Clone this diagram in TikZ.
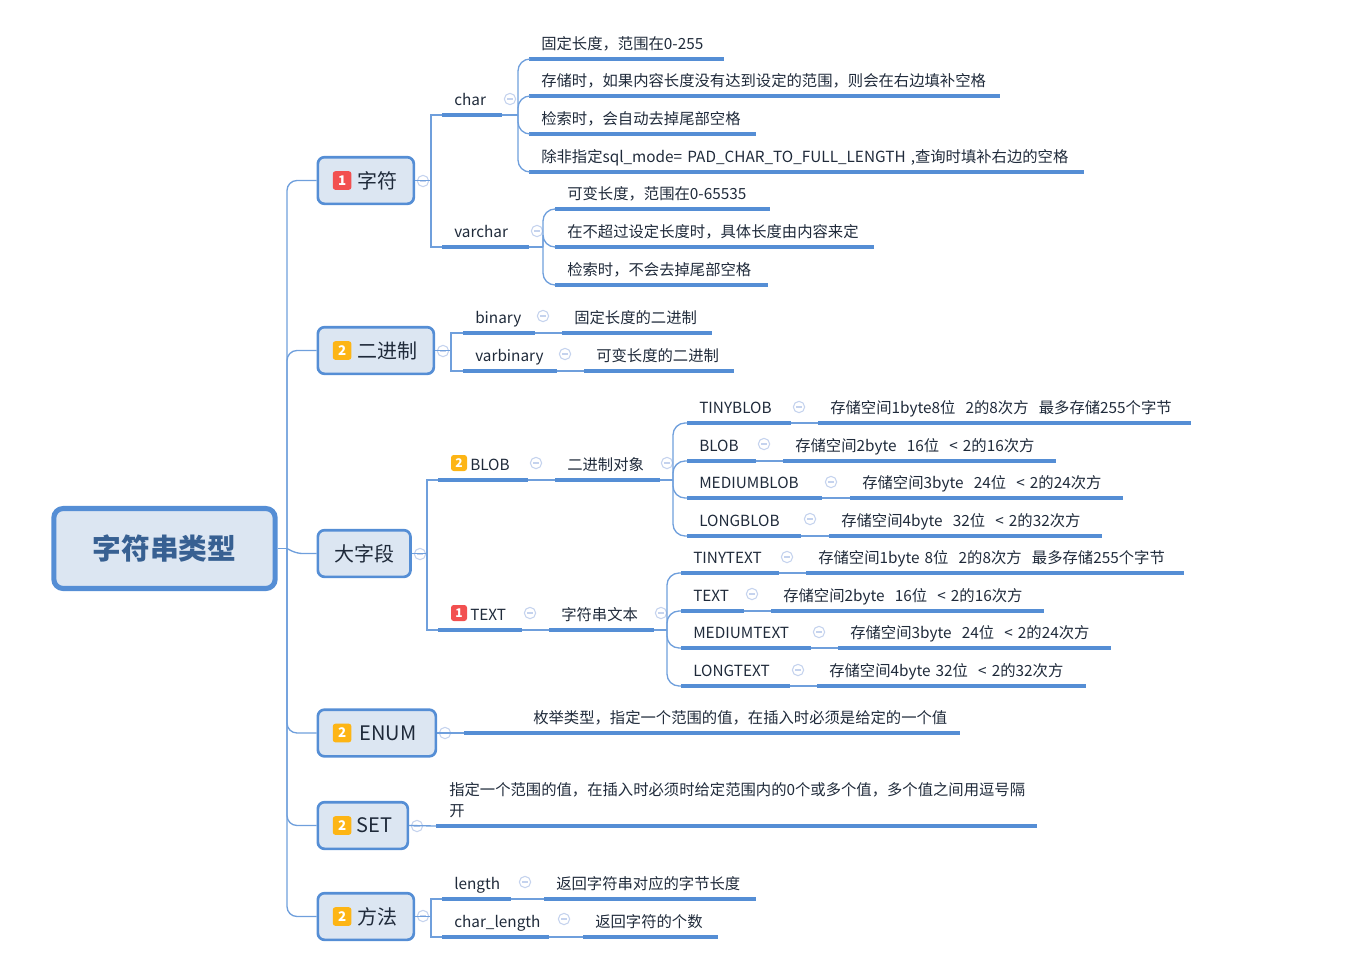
\documentclass[tikz,border=0pt]{standalone}
\usepackage{fontspec}
\setmainfont{Noto Sans CJK SC}
\usetikzlibrary{positioning}

\definecolor{lineblue}{HTML}{6F9FDC}
\definecolor{ruleblue}{HTML}{558ED5}
\definecolor{boxfill}{HTML}{DCE6F2}
\definecolor{roottext}{HTML}{376092}
\definecolor{foldline}{HTML}{C5D3EE}
\definecolor{inktext}{HTML}{1F2A3A}
\definecolor{badgeone}{HTML}{F25050}
\definecolor{badgetwo}{HTML}{FDB515}

\tikzset{
    link/.style={draw=lineblue, line width=1pt, rounded corners=7.5pt},
    hublink/.style={link, rounded corners=9pt},
    underrule/.style={draw=ruleblue, line width=2.4pt},
    leaf/.style={inner xsep=9pt, inner ysep=4.6pt, text height=8pt, text depth=2.5pt, align=left, font=\fontsize{11.5}{13.5}\selectfont, text=inktext},
    topic/.style={draw=ruleblue, fill=boxfill, line width=2pt, rounded corners=5pt, minimum height=35pt, inner sep=0pt, anchor=west, font=\fontsize{15}{18}\selectfont, text=inktext},
    root/.style={draw=ruleblue, fill=boxfill, line width=3.8pt, rounded corners=7pt, minimum width=166pt, minimum height=60pt, font=\fontsize{21.5}{26}\bfseries\selectfont, text=roottext},
    fold/.style={circle, draw=foldline, line width=0.8pt, fill=white, minimum size=8.5pt, inner sep=0pt,
        path picture={\draw[foldline, line width=0.8pt] ([xshift=2pt]path picture bounding box.west) -- ([xshift=-2pt]path picture bounding box.east);}},
    badge/.style={fill=#1, rounded corners=2pt, text=white, inner sep=0pt, minimum size=14pt, font=\fontsize{10}{12}\bfseries\selectfont},
    smallbadge/.style={badge=#1, minimum size=12pt, font=\fontsize{9}{11}\bfseries\selectfont}
}

% a text with its thick line under it: name, left, right, line height, text
\newcommand{\leafnode}[5]{%
    \pgfmathsetmacro{\leafwidth}{(#3-#2)*0.75-18}
    \node[leaf, text width=\leafwidth pt, anchor=south west] (#1) at (#2,#4) {#5};
    \draw[underrule] (#1.south west) -- (#1.south east);
}
% the small circle with the minus: name, x, y
\newcommand{\foldnode}[3]{\node[fold] (#1) at (#2,#3) {};}

\begin{document}
\begin{tikzpicture}[x=0.75pt, y=-0.75pt]
    \useasboundingbox (0,0) rectangle (1356,961);

    % draw the root and the six topics
    \node[root] (strtype) at (164.5,548.5) {字符串类型};
    \node[topic, minimum width=72pt] (chars) at (316.5,180.5) {\hspace*{17pt}字符};
    \node[topic, minimum width=87pt] (bin) at (316.5,350.5) {\hspace*{17pt}二进制};
    \node[topic, minimum width=69.5pt] (big) at (316.5,553.5) {大字段};
    \node[topic, minimum width=88.5pt] (enum) at (316.5,733) {\hspace*{17pt}ENUM};
    \node[topic, minimum width=67.5pt] (set) at (316.5,825.5) {\hspace*{17pt}SET};
    \node[topic, minimum width=72pt] (func) at (316.5,916.5) {\hspace*{17pt}方法};

    \node[badge=badgeone, right=12pt of chars.west] (charsbadge) {1};
    \node[badge=badgetwo, right=12pt of bin.west] (binbadge) {2};
    \node[badge=badgetwo, right=12pt of enum.west] (enumbadge) {2};
    \node[badge=badgetwo, right=12pt of set.west] (setbadge) {2};
    \node[badge=badgetwo, right=12pt of func.west] (funcbadge) {2};

    % the spine from the root to the topics
    \coordinate (spine) at (287,548.5);
    \draw[link] (strtype.east) -- (spine);
    \foreach \t in {chars,bin,enum,set,func}
        \draw[link] (spine) |- (\t.west);
    \draw[link, rounded corners=4pt] (spine) -- (297,553.5) -- (big.west);

    % char and varchar
    \coordinate (charsfork) at (431,180.5);
    \foldnode{charsfold}{423}{181}
    \leafnode{char}{442}{501}{115}{char}
    \leafnode{varchar}{442}{528}{247}{varchar}
    \draw[link] (chars.east) -- (charsfork);
    \draw[link, rounded corners=0pt] (charsfork) |- (char.south west);
    \draw[link, rounded corners=0pt] (charsfork) |- (varchar.south west);
    \foldnode{charfold}{510}{99}
    \foldnode{varcharfold}{537}{231}

    \coordinate (charhub) at (518,115);
    \draw[link] (char.south east) -- (charhub);
    \leafnode{chara}{529}{723}{59}{固定长度，范围在0-255}
    \leafnode{charb}{529}{999}{96}{存储时，如果内容长度没有达到设定的范围，则会在右边填补空格}
    \leafnode{charc}{529}{755}{134}{检索时，会自动去掉尾部空格}
    \leafnode{chard}{529}{1083}{172}{除非指定sql\_mode= PAD\_CHAR\_TO\_FULL\_LENGTH ,查询时填补右边的空格}
    \foreach \n in {chara,charb,charc,chard}
        \draw[hublink] (charhub) |- (\n.south west);

    \coordinate (varcharhub) at (543,247);
    \draw[link] (varchar.south east) -- (varcharhub);
    \leafnode{vara}{555}{769}{209}{可变长度，范围在0-65535}
    \leafnode{varb}{555}{873}{247}{在不超过设定长度时，具体长度由内容来定}
    \leafnode{varc}{555}{767}{285}{检索时，不会去掉尾部空格}
    \foreach \n in {vara,varb,varc}
        \draw[hublink] (varcharhub) |- (\n.south west);

    % binary and varbinary
    \coordinate (binfork) at (451,350.5);
    \foldnode{binfold}{443}{351}
    \leafnode{binary}{463}{534}{333}{binary}
    \leafnode{binarytext}{562}{711}{333}{固定长度的二进制}
    \leafnode{varbinary}{463}{556}{371}{varbinary}
    \leafnode{varbinarytext}{584}{733}{371}{可变长度的二进制}
    \draw[link] (bin.east) -- (binfork);
    \draw[link, rounded corners=0pt] (binfork) |- (binary.south west);
    \draw[link, rounded corners=0pt] (binfork) |- (varbinary.south west);
    \draw[link] (binary.south east) -- (binarytext.south west);
    \draw[link] (varbinary.south east) -- (varbinarytext.south west);
    \foldnode{binaryfold}{543}{316}
    \foldnode{varbinaryfold}{565}{354}

    % blob and text
    \coordinate (bigfork) at (427,553.5);
    \foldnode{bigfold}{420}{554}
    \leafnode{blob}{438}{527}{480}{\hspace*{15pt}BLOB}
    \leafnode{text}{438}{521}{630}{\hspace*{15pt}TEXT}
    \node[smallbadge=badgetwo] (blobbadge) at (459,463) {2};
    \node[smallbadge=badgeone] (textbadge) at (459,613) {1};
    \draw[link] (big.east) -- (bigfork);
    \draw[link, rounded corners=0pt] (bigfork) |- (blob.south west);
    \draw[link, rounded corners=0pt] (bigfork) |- (text.south west);

    \leafnode{blobobj}{555}{659}{480}{二进制对象}
    \draw[link] (blob.south east) -- (blobobj.south west);
    \foldnode{blobfold}{536}{463}
    \foldnode{blobobjfold}{667}{463}
    \coordinate (blobhub) at (673,480);
    \draw[link] (blobobj.south east) -- (blobhub);
    \leafnode{tinyblob}{687}{790}{423}{TINYBLOB}
    \leafnode{blobb}{687}{755}{461}{BLOB}
    \leafnode{mediumblob}{687}{821}{498}{MEDIUMBLOB}
    \leafnode{longblob}{687}{800}{536}{LONGBLOB}
    \foreach \n in {tinyblob,blobb,mediumblob,longblob}
        \draw[hublink] (blobhub) |- (\n.south west);
    \leafnode{tinyblobtext}{818}{1190}{423}{存储空间1byte8位~~2的8次方~~最多存储255个字节}
    \leafnode{blobbtext}{783}{1055}{461}{存储空间2byte~~16位~~< 2的16次方}
    \leafnode{mediumblobtext}{850}{1122}{498}{存储空间3byte~~24位~~< 2的24次方}
    \leafnode{longblobtext}{829}{1101}{536}{存储空间4byte~~32位~~< 2的32次方}
    \foreach \n in {tinyblob,blobb,mediumblob,longblob}
        \draw[link] (\n.south east) -- (\n text.south west);
    \foldnode{tinyblobfold}{799}{407}
    \foldnode{blobbfold}{764}{444}
    \foldnode{mediumblobfold}{831}{482}
    \foldnode{longblobfold}{810}{519}

    \leafnode{textstr}{549}{653}{630}{字符串文本}
    \draw[link] (text.south east) -- (textstr.south west);
    \foldnode{textfold}{530}{613}
    \foldnode{textstrfold}{661}{613}
    \coordinate (texthub) at (667,630);
    \draw[link] (textstr.south east) -- (texthub);
    \leafnode{tinytext}{681}{778}{573}{TINYTEXT}
    \leafnode{textb}{681}{743}{611}{TEXT}
    \leafnode{mediumtext}{681}{810}{648}{MEDIUMTEXT}
    \leafnode{longtext}{681}{789}{686}{LONGTEXT}
    \foreach \n in {tinytext,textb,mediumtext,longtext}
        \draw[hublink] (texthub) |- (\n.south west);
    \leafnode{tinytexttext}{806}{1183}{573}{存储空间1byte 8位~~2的8次方~~最多存储255个字节}
    \leafnode{textbtext}{771}{1043}{611}{存储空间2byte~~16位~~< 2的16次方}
    \leafnode{mediumtexttext}{838}{1110}{648}{存储空间3byte~~24位~~< 2的24次方}
    \leafnode{longtexttext}{817}{1085}{686}{存储空间4byte 32位~~< 2的32次方}
    \foreach \n in {tinytext,textb,mediumtext,longtext}
        \draw[link] (\n.south east) -- (\n text.south west);
    \foldnode{tinytextfold}{787}{557}
    \foldnode{textbfold}{752}{594}
    \foldnode{mediumtextfold}{819}{632}
    \foldnode{longtextfold}{798}{670}

    % enum and set
    \foldnode{enumfold}{445}{733}
    \node[leaf, anchor=south west, inner xsep=0pt] (enumtext) at (533,733) {枚举类型，指定一个范围的值，在插入时必须是给定的一个值};
    \coordinate (enumstart) at (464,733);
    \coordinate (enumend) at (960,733);
    \draw[underrule] (enumstart) -- (enumend);
    \draw[link] (enum.east) -- (enumstart);

    \foldnode{setfold}{417}{826}
    \node[leaf, anchor=south west, inner xsep=0pt, text height=22pt] (settext) at (449,826) {指定一个范围的值，在插入时必须时给定范围内的0个或多个值，多个值之间用逗号隔\\[2pt]开};
    \coordinate (setstart) at (436,826);
    \coordinate (setend) at (1037,826);
    \draw[underrule] (setstart) -- (setend);
    \draw[link] (set.east) -- (setstart);

    % length and char_length
    \coordinate (funcfork) at (431,916.5);
    \foldnode{funcfold}{423}{916}
    \leafnode{length}{442}{510}{899}{length}
    \leafnode{lengthtext}{544}{755}{899}{返回字符串对应的字节长度}
    \leafnode{charlength}{442}{548}{937}{char\_length}
    \leafnode{charlengthtext}{583}{717}{937}{返回字符的个数}
    \draw[link] (func.east) -- (funcfork);
    \draw[link, rounded corners=0pt] (funcfork) |- (length.south west);
    \draw[link, rounded corners=0pt] (funcfork) |- (charlength.south west);
    \draw[link] (length.south east) -- (lengthtext.south west);
    \draw[link] (charlength.south east) -- (charlengthtext.south west);
    \foldnode{lengthfold}{525}{882}
    \foldnode{charlengthfold}{564}{919}
\end{tikzpicture}
\end{document}
